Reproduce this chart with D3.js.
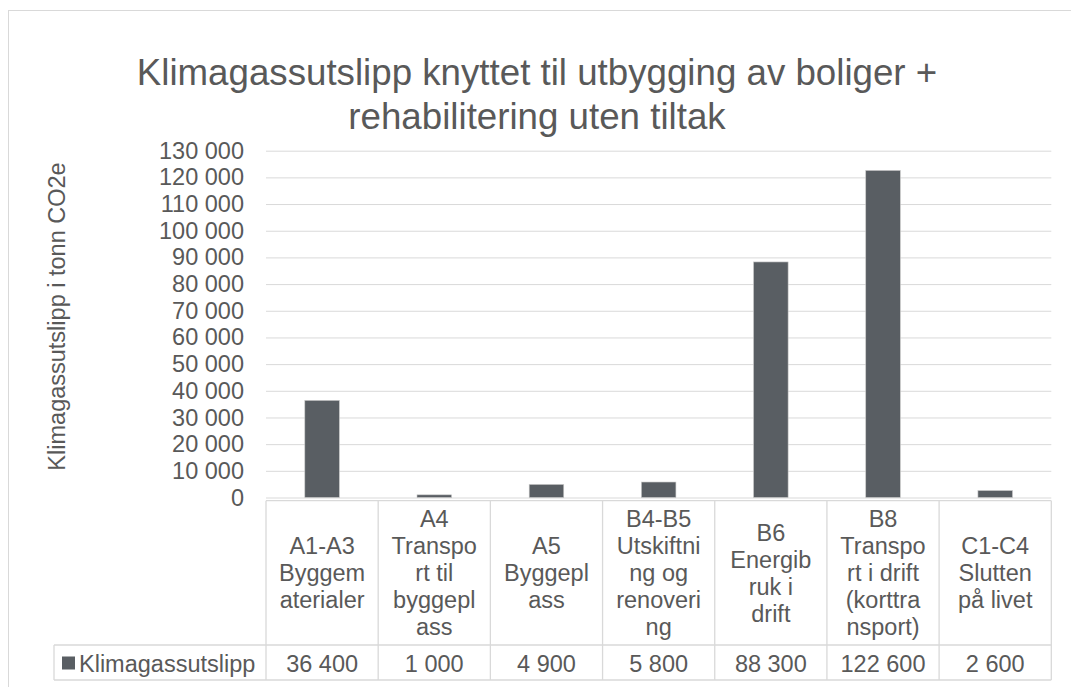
<!DOCTYPE html>
<html>
<head>
<meta charset="utf-8">
<script src="https://cdn.jsdelivr.net/npm/d3@7"></script>
<style>
  body { margin: 0; background: #fff; }
  text { font-family: "Liberation Sans", Arial, sans-serif; fill: #595959; }
</style>
</head>
<body>
<div id="chart"></div>
<script>
// chart data
var categories = ["A1-A3", "A4", "A5", "B4-B5", "B6", "B8", "C1-C4"];
var categoryLines = [
  ["A1-A3", "Byggem", "aterialer"],
  ["A4", "Transpo", "rt til", "byggepl", "ass"],
  ["A5", "Byggepl", "ass"],
  ["B4-B5", "Utskiftni", "ng og", "renoveri", "ng"],
  ["B6", "Energib", "ruk i", "drift"],
  ["B8", "Transpo", "rt i drift", "(korttra", "nsport)"],
  ["C1-C4", "Slutten", "på livet"]
];
var values = [36400, 1000, 4900, 5800, 88300, 122600, 2600];
var yTicks = d3.range(0, 130001, 10000);
var seriesName = "Klimagassutslipp";
var titleLines = ["Klimagassutslipp knyttet til utbygging av boliger +", "rehabilitering uten tiltak"];
var yLabel = "Klimagassutslipp i tonn CO2e";

var svgWidth = 1071;
var svgHeight = 687;

var plot = { left: 266, right: 1051.3, top: 150.7, bottom: 497.5 };
var table = { top: 500.7, mid: 645, bottom: 680, legendLeft: 54 };
var gridColor = "#d9d9d9";
var barColor = "#595e63";

var locale = d3.formatLocale({ decimal: ",", thousands: " ", grouping: [3], currency: ["", ""] });
var fmt = locale.format(",");

var svg = d3.select("#chart")
  .append("svg")
  .attr("width", svgWidth)
  .attr("height", svgHeight);

// outer chart frame
svg.append("rect")
  .attr("x", 8.5)
  .attr("y", 10.5)
  .attr("width", 1100)
  .attr("height", 720)
  .attr("fill", "none")
  .attr("stroke", gridColor);

// scales
var xScale = d3.scaleBand()
  .domain(categories)
  .range([plot.left, plot.right]);

var yScale = d3.scaleLinear()
  .domain([0, 130000])
  .range([plot.bottom, plot.top]);

// gridlines
svg.append("g")
  .attr("transform", `translate(${plot.left}, 0)`)
  .call(d3.axisLeft(yScale).tickValues(yTicks).tickSize(-(plot.right - plot.left)).tickFormat(""))
  .call(g => g.select(".domain").remove())
  .call(g => g.selectAll("line").attr("stroke", gridColor).attr("stroke-width", 1));

// y axis labels
svg.append("g")
  .attr("transform", `translate(${plot.left}, 0)`)
  .call(d3.axisLeft(yScale).tickValues(yTicks).tickSize(0).tickPadding(22).tickFormat(fmt))
  .call(g => g.select(".domain").remove())
  .call(g => g.selectAll("text")
    .attr("fill", "#595959")
    .style("font-size", "23.5px")
    .style("font-family", "Liberation Sans, Arial, sans-serif"));

// bars
var barW = xScale.bandwidth() * 0.308;
svg.selectAll(".bar")
  .data(values)
  .enter()
  .append("rect")
  .attr("class", "bar")
  .attr("x", (d, i) => xScale(categories[i]) + (xScale.bandwidth() - barW) / 2)
  .attr("y", d => yScale(d))
  .attr("width", barW)
  .attr("height", d => yScale(0) - yScale(d))
  .attr("fill", barColor)
  .attr("stroke", "#c8c8c8")
  .attr("stroke-width", 0.6);

// title
svg.append("text")
  .attr("x", 537)
  .attr("text-anchor", "middle")
  .style("font-size", "36.7px")
  .selectAll("tspan")
  .data(titleLines)
  .enter()
  .append("tspan")
  .attr("x", 537)
  .attr("y", (d, i) => 85 + i * 44)
  .text(d => d);

// y axis title
svg.append("text")
  .attr("transform", "translate(65, 316.5) rotate(-90)")
  .attr("text-anchor", "middle")
  .style("font-size", "23.5px")
  .text(yLabel);

// data table
var tbl = svg.append("g");
var lineStyle = l => l.attr("stroke", gridColor).attr("stroke-width", 1.3);

tbl.append("line").attr("x1", plot.left).attr("x2", plot.right).attr("y1", table.top).attr("y2", table.top).call(lineStyle);
tbl.append("line").attr("x1", table.legendLeft).attr("x2", plot.right).attr("y1", table.mid).attr("y2", table.mid).call(lineStyle);
tbl.append("line").attr("x1", table.legendLeft).attr("x2", plot.right).attr("y1", table.bottom).attr("y2", table.bottom).call(lineStyle);
tbl.append("line").attr("x1", table.legendLeft).attr("x2", table.legendLeft).attr("y1", table.mid).attr("y2", table.bottom).call(lineStyle);

var colEdges = categories.map(c => xScale(c)).concat([plot.right]);
tbl.selectAll(".vline")
  .data(colEdges)
  .enter()
  .append("line")
  .attr("x1", d => d).attr("x2", d => d)
  .attr("y1", table.top).attr("y2", table.bottom)
  .call(lineStyle);

// category headers
var lineH = 27;
var headerMid = (table.top + table.mid) / 2;
tbl.selectAll(".cat")
  .data(categoryLines)
  .enter()
  .append("text")
  .attr("text-anchor", "middle")
  .style("font-size", "23.5px")
  .each(function(lines, i) {
    var cx = xScale(categories[i]) + xScale.bandwidth() / 2;
    var y0 = headerMid - (lines.length - 1) * lineH / 2;
    d3.select(this).selectAll("tspan")
      .data(lines)
      .enter()
      .append("tspan")
      .attr("x", cx)
      .attr("y", (d, j) => y0 + j * lineH)
      .attr("dy", "0.36em")
      .text(d => d);
  });

// value row
tbl.selectAll(".val")
  .data(values)
  .enter()
  .append("text")
  .attr("x", (d, i) => xScale(categories[i]) + xScale.bandwidth() / 2)
  .attr("y", 672)
  .attr("text-anchor", "middle")
  .style("font-size", "23.5px")
  .text(d => fmt(d));

// legend key
tbl.append("rect")
  .attr("x", 62)
  .attr("y", 656.5)
  .attr("width", 13)
  .attr("height", 13)
  .attr("fill", barColor);

tbl.append("text")
  .attr("x", 79)
  .attr("y", 672)
  .style("font-size", "23.5px")
  .text(seriesName);
</script>
</body>
</html>
